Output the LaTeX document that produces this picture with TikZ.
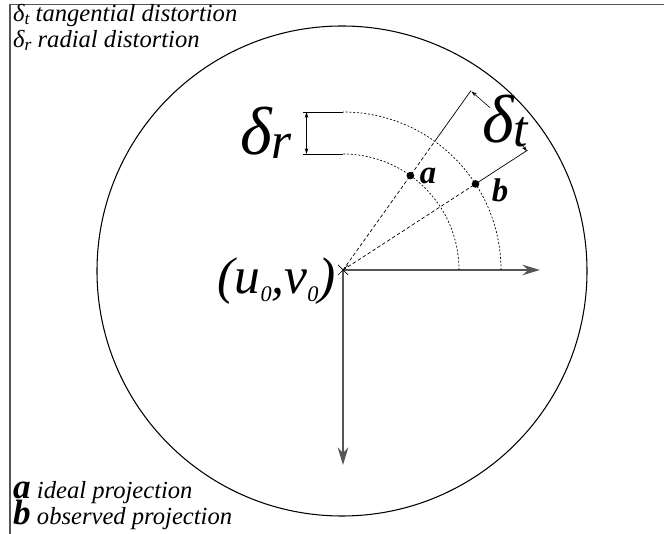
\documentclass[tikz,border=0pt]{standalone}
\usepackage{fontspec}
\setmainfont{Liberation Serif}[ItalicFont={Liberation Serif Italic}, BoldItalicFont={Liberation Serif Bold Italic}]
\usetikzlibrary{arrows.meta}
\definecolor{AxisGray}{HTML}{555555}
\newcommand{\bigdelta}{{\fontsize{58}{58}\selectfont δ}}
\newcommand{\subzero}{\raisebox{-0.35ex}{\fontsize{19}{19}\selectfont 0}}
\tikzset{
  raydash/.style={dash pattern=on 3pt off 2pt, line width=0.6pt},
  arcdot/.style={dash pattern=on 1.6pt off 1.6pt, line width=0.6pt},
  axisarrow/.style={AxisGray, line width=1.3pt, -{Stealth[length=15pt,width=9pt]}},
  dimarrow/.style={line width=0.5pt, -{Stealth[length=5pt,width=3pt]}},
  biglabel/.style={font=\fontsize{44}{48}\selectfont\itshape, inner sep=0pt},
  legend/.style={anchor=base west, font=\fontsize{21}{24}\selectfont\itshape, inner sep=0pt},
  pointdot/.style={circle, fill, inner sep=0pt, minimum size=6.5pt}
}
\begin{document}
\begin{tikzpicture}[x=0.03cm,y=0.03cm]
\path[use as bounding box] (0,0) rectangle (664,534);
\draw[AxisGray,line width=1.5pt] (10,0) -- (10,529.5) -- (664,529.5);
\coordinate (O) at (343,264);
\draw[line width=0.9pt] (342,263) circle (245);
% axes
\coordinate (xend) at (540,264);
\coordinate (yend) at (343,69);
\draw[axisarrow] (O) -- (xend);
\draw[axisarrow] (O) -- (yend);
\draw[line width=0.6pt] (338,259) -- (348,269) (338,269) -- (348,259);
% radial distortion
\draw[arcdot] (459,264) arc[start angle=0,end angle=90,radius=116];
\draw[arcdot] (501,264) arc[start angle=0,end angle=90,radius=158];
\coordinate (rin) at (303,380);
\coordinate (rout) at (303,422);
\draw[line width=0.6pt] (rin) -- (343,380) (rout) -- (343,422);
\draw[line width=0.5pt,{Stealth[length=5pt,width=3pt]}-{Stealth[length=5pt,width=3pt]}] ([xshift=3]rin) -- ([xshift=3]rout);
\node[biglabel] (dr) at (266,401) {\bigdelta\raisebox{-0.15ex}{r}};
% ideal and observed points
\node[pointdot] (a) at ([shift={(54.5:116)}]O) {};
\node[pointdot] (b) at ([shift={(33:158)}]O) {};
\coordinate (amid) at ([shift={(54.5:158)}]O);
\coordinate (atop) at ([shift={(54.5:220)}]O);
\coordinate (btop) at ([shift={(33:220)}]O);
\draw[raydash] (O) -- (a.center) -- (amid);
\draw[line width=0.6pt] (amid) -- (atop);
\draw[raydash] (O) -- (b.center);
\draw[line width=0.6pt] (b.center) -- (btop);
\node[font=\fontsize{28}{28}\selectfont\bfseries\itshape, inner sep=0pt] (alab) at (428,358) {a};
\node[font=\fontsize{28}{28}\selectfont\bfseries\itshape, inner sep=0pt] (blab) at (500,344) {b};
% tangential distortion
\coordinate (t1) at ([shift={(47.8:219)}]O);
\coordinate (t2) at ([shift={(37.2:218)}]O);
\draw[dimarrow] (t1) -- ([shift={(54.3:220)}]O);
\draw[dimarrow] (t2) -- ([shift={(32.8:219)}]O);
\node[biglabel] (dt) at (505,413) {\bigdelta\raisebox{-0.15ex}{t}};
\node[biglabel, anchor=east] (uv) at (336,253) {(u\subzero,v\subzero)};
% legend
\node[legend] (lt) at (13,512) {δ\raisebox{-0.2ex}{\fontsize{15}{15}\selectfont t} tangential distortion};
\node[legend] (lr) at (13,486) {δ\raisebox{-0.2ex}{\fontsize{15}{15}\selectfont r} radial distortion};
\node[legend] (la) at (13,35) {{\fontsize{30}{30}\selectfont\bfseries a} ideal projection};
\node[legend] (lb) at (13,9) {{\fontsize{30}{30}\selectfont\bfseries b} observed projection};
\end{tikzpicture}
\end{document}
